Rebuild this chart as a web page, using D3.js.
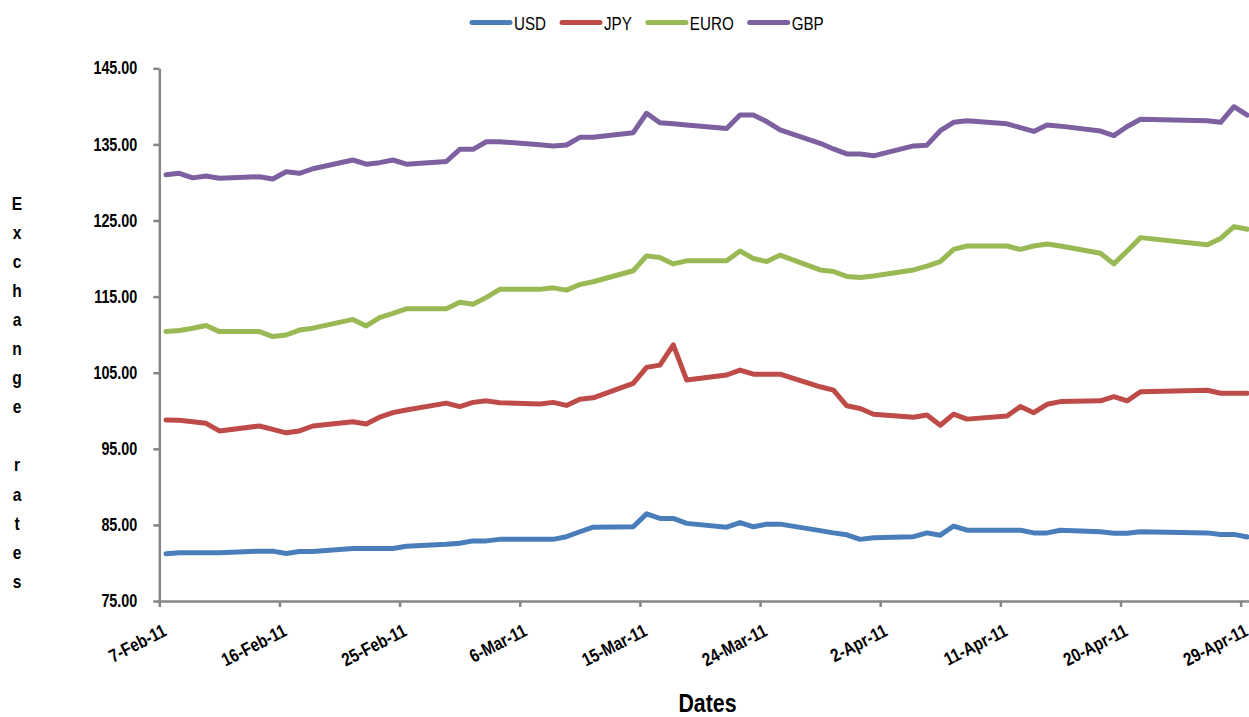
<!DOCTYPE html>
<html>
<head>
<meta charset="utf-8">
<script src="https://cdn.jsdelivr.net/npm/d3@7"></script>
<style>
  html, body { margin: 0; padding: 0; background: #fff; }
  svg { display: block; }
  text { font-family: "Liberation Sans Narrow", "Arial Narrow", "Liberation Sans", Arial, sans-serif; fill: #000; }
</style>
</head>
<body>
<svg id="chart" width="1249" height="717"></svg>
<script>
// Trading days (weekends and the Easter holidays are absent)
const dates = [
  "2011-02-07","2011-02-08","2011-02-09","2011-02-10","2011-02-11",
  "2011-02-14","2011-02-15","2011-02-16","2011-02-17","2011-02-18",
  "2011-02-21","2011-02-22","2011-02-23","2011-02-24","2011-02-25",
  "2011-02-28","2011-03-01","2011-03-02","2011-03-03","2011-03-04",
  "2011-03-07","2011-03-08","2011-03-09","2011-03-10","2011-03-11",
  "2011-03-14","2011-03-15","2011-03-16","2011-03-17","2011-03-18",
  "2011-03-21","2011-03-22","2011-03-23","2011-03-24","2011-03-25",
  "2011-03-28","2011-03-29","2011-03-30","2011-03-31","2011-04-01",
  "2011-04-04","2011-04-05","2011-04-06","2011-04-07","2011-04-08",
  "2011-04-11","2011-04-12","2011-04-13","2011-04-14","2011-04-15",
  "2011-04-18","2011-04-19","2011-04-20","2011-04-21",
  "2011-04-26","2011-04-27","2011-04-28","2011-04-29"
];

const usd = [
  81.20, 81.35, 81.35, 81.35, 81.35, 81.55, 81.55, 81.25, 81.50, 81.50,
  81.90, 81.90, 81.90, 81.90, 82.20, 82.45, 82.60, 82.90, 82.90, 83.10,
  83.10, 83.10, 83.45, 84.10, 84.70, 84.75, 86.45, 85.85, 85.85, 85.20,
  84.70, 85.30, 84.75, 85.10, 85.10, 84.25, 83.95, 83.70, 83.10, 83.30,
  83.45, 83.95, 83.65, 84.85, 84.30, 84.30, 84.30, 83.95, 83.95, 84.30,
  84.10, 83.90, 83.90, 84.10, 83.95, 83.75, 83.75, 83.40
];

const jpy = [
  98.80, 98.75, 98.55, 98.35, 97.35, 98.00, 97.55, 97.10, 97.35, 98.00,
  98.55, 98.25, 99.15, 99.75, 100.10, 101.00, 100.55, 101.10, 101.30, 101.05,
  100.90, 101.10, 100.70, 101.50, 101.70, 103.60, 105.70, 106.00, 108.65, 104.05,
  104.70, 105.35, 104.80, 104.80, 104.80, 103.15, 102.70, 100.65, 100.30, 99.55,
  99.15, 99.45, 98.10, 99.55, 98.90, 99.30, 100.55, 99.75, 100.85, 101.20,
  101.30, 101.85, 101.30, 102.50, 102.70, 102.30, 102.30, 102.30
];

const euro = [
  110.40, 110.55, 110.85, 111.20, 110.40, 110.40, 109.75, 109.95, 110.60, 110.85,
  112.00, 111.15, 112.25, 112.80, 113.40, 113.40, 114.25, 114.00, 114.90, 115.95,
  115.95, 116.15, 115.85, 116.60, 116.95, 118.40, 120.35, 120.15, 119.30, 119.70,
  119.70, 121.00, 120.00, 119.60, 120.45, 118.50, 118.30, 117.65, 117.50, 117.70,
  118.50, 119.00, 119.60, 121.20, 121.65, 121.65, 121.20, 121.65, 121.90, 121.65,
  120.70, 119.30, 121.00, 122.75, 121.80, 122.65, 124.20, 123.85
];

const gbp = [
  131.00, 131.20, 130.60, 130.85, 130.55, 130.75, 130.45, 131.40, 131.20, 131.80,
  132.95, 132.40, 132.60, 132.95, 132.40, 132.75, 134.35, 134.35, 135.35, 135.35,
  134.95, 134.80, 134.92, 135.93, 135.93, 136.54, 139.09, 137.85, 137.70, 137.55,
  137.10, 138.85, 138.85, 138.00, 136.90, 135.15, 134.40, 133.75, 133.75, 133.50,
  134.80, 134.90, 136.80, 137.90, 138.10, 137.70, 137.20, 136.70, 137.55, 137.40,
  136.75, 136.15, 137.35, 138.30, 138.10, 137.90, 139.95, 138.85
];

const seriesNames = ["USD", "JPY", "EURO", "GBP"];
const seriesValues = [usd, jpy, euro, gbp];
const seriesColors = ["#4A7EBB", "#BE4B48", "#98B954", "#7D60A0"];

const xTickLabels = ["7-Feb-11","16-Feb-11","25-Feb-11","6-Mar-11","15-Mar-11",
                     "24-Mar-11","2-Apr-11","11-Apr-11","20-Apr-11","29-Apr-11"];
const yTicks = [75, 85, 95, 105, 115, 125, 135, 145];

const yTitle = "Exchange rates";
const xTitle = "Dates";

// ---- layout ----
const svg = d3.select("#chart");
const axisColor = "#868686";
const plotLeft = 159.3, plotTop = 68.3, plotBottom = 601;
const dayWidth = 13.35;
const labelFont = '"Liberation Sans Narrow", "Arial Narrow", "Liberation Sans", sans-serif';
const narrowRatio = 0.82;

// squeeze text horizontally to a narrow face; returns nothing, stores width
function narrow(sel) {
  sel.each(function () {
    const w = this.getComputedTextLength();
    if (w > 0) {
      const nw = w * narrowRatio;
      this.setAttribute("textLength", nw.toFixed(2));
      this.setAttribute("lengthAdjust", "spacingAndGlyphs");
      this.__narrowWidth = nw;
    }
  });
}

const parseISO = d3.timeParse("%Y-%m-%d");
const parseTick = d3.timeParse("%e-%b-%y");
const dateObjs = dates.map(parseISO);
const tickDates = xTickLabels.map(parseTick);

const startDay = tickDates[0];
const endDay = d3.timeDay.offset(parseISO(dates[dates.length - 1]), 1);
const nDays = d3.timeDay.count(startDay, endDay);

const x = d3.scaleTime()
  .domain([startDay, endDay])
  .range([plotLeft, plotLeft + nDays * dayWidth]);

const y = d3.scaleLinear()
  .domain([75, 145])
  .range([plotBottom, plotTop]);

// each value sits in the middle of its day slot
const xMid = d => x(d3.timeHour.offset(d, 12));

// ---- axes ----
const yAxis = d3.axisLeft(y)
  .tickValues(yTicks)
  .tickFormat(d3.format(".2f"))
  .tickSize(6)
  .tickSizeOuter(0)
  .tickPadding(16);

const gy = svg.append("g")
  .attr("transform", `translate(${plotLeft},0)`)
  .call(yAxis);
gy.select(".domain").attr("stroke", axisColor).attr("stroke-width", 2.5);
gy.selectAll(".tick line").attr("stroke", axisColor).attr("stroke-width", 2.5);
gy.selectAll(".tick text")
  .attr("font-size", 17.5)
  .attr("font-weight", "bold")
  .attr("font-family", labelFont)
  .attr("fill", "#000")
  .call(narrow);

const xAxis = d3.axisBottom(x)
  .tickValues(tickDates)
  .tickFormat((d, i) => xTickLabels[i])
  .tickSize(6)
  .tickSizeOuter(0);

const gx = svg.append("g")
  .attr("transform", `translate(0,${plotBottom})`)
  .call(xAxis);
gx.select(".domain").attr("stroke", axisColor).attr("stroke-width", 2.5);
gx.selectAll(".tick line").attr("stroke", axisColor).attr("stroke-width", 2.5);
gx.selectAll(".tick text")
  .attr("font-size", 18.5)
  .attr("font-weight", "bold")
  .attr("font-family", labelFont)
  .attr("fill", "#000")
  .attr("text-anchor", "end")
  .attr("y", 0)
  .attr("dy", 0)
  .attr("transform", "translate(8,34) rotate(-27)")
  .call(narrow);

// ---- series ----
const line = d3.line()
  .x((v, i) => xMid(dateObjs[i]))
  .y(v => y(v));

svg.append("g")
  .selectAll("path")
  .data(seriesValues)
  .join("path")
  .attr("fill", "none")
  .attr("stroke", (d, i) => seriesColors[i])
  .attr("stroke-width", 5)
  .attr("stroke-linejoin", "round")
  .attr("stroke-linecap", "round")
  .attr("d", line);

// ---- legend ----
const legend = svg.append("g");
let lx = 472;
seriesNames.forEach((name, i) => {
  legend.append("line")
    .attr("x1", lx).attr("x2", lx + 38)
    .attr("y1", 22.5).attr("y2", 22.5)
    .attr("stroke", seriesColors[i])
    .attr("stroke-width", 5)
    .attr("stroke-linecap", "round");
  const t = legend.append("text")
    .attr("x", lx + 42)
    .attr("y", 30)
    .attr("font-size", 18.5)
    .text(name)
    .call(narrow);
  lx += 42 + t.node().__narrowWidth + 16;
});

// ---- titles ----
svg.append("text")
  .attr("x", 707.5)
  .attr("y", 712)
  .attr("text-anchor", "middle")
  .attr("font-size", 26)
  .attr("font-weight", "bold")
  .text(xTitle)
  .call(narrow);

const yt = svg.append("g")
  .attr("font-size", 19)
  .attr("font-weight", "bold");
Array.from(yTitle).forEach((ch, i) => {
  if (ch === " ") return;
  yt.append("text")
    .attr("x", 17)
    .attr("y", 209.5 + i * 29.1)
    .attr("text-anchor", "middle")
    .text(ch)
    .call(narrow);
});
</script>
</body>
</html>
